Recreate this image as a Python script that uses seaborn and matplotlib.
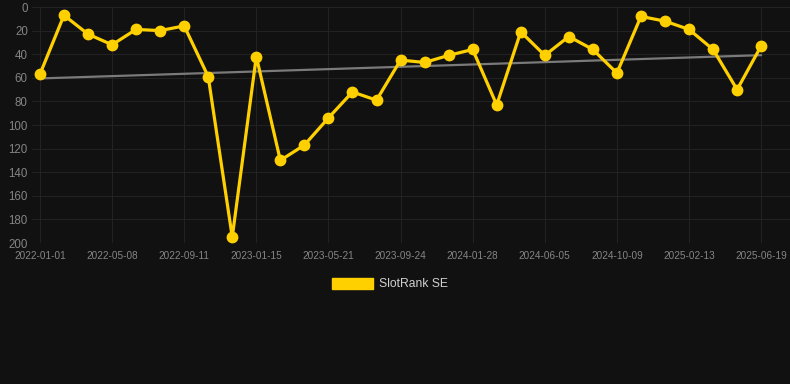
import numpy as np
import pandas as pd
import matplotlib
matplotlib.use("Agg")
import matplotlib.pyplot as plt
import seaborn as sns
from matplotlib.patches import Patch

# ---- data ----
positions = list(range(31))
rank_values = [57, 7, 23, 32, 19, 20, 16, 59, 195, 42, 130, 117, 94, 72, 79,
               45, 47, 41, 36, 83, 21, 41, 25, 36, 56, 8, 12, 19, 36, 70, 33]
tick_positions = [0, 3, 6, 9, 12, 15, 18, 21, 24, 27, 30]
tick_labels = ["2022-01-01", "2022-05-08", "2022-09-11", "2023-01-15", "2023-05-21",
               "2023-09-24", "2024-01-28", "2024-06-05", "2024-10-09", "2025-02-13",
               "2025-06-19"]
y_ticks = [0, 20, 40, 60, 80, 100, 120, 140, 160, 180, 200]
series_name = "SlotRank SE"

BG = "#111111"
GRID = "#222222"
TICK = "#858585"
YELLOW = "#FFD000"

sns.set_style("dark")
plt.rcParams["font.family"] = ["Liberation Sans", "DejaVu Sans"]

fig = plt.figure(figsize=(7.9, 3.84), dpi=100, facecolor=BG)
ax = fig.add_axes([32 / 790, 1 - 243 / 384, 1 - 32 / 790, (243 - 7) / 384])
ax.set_facecolor(BG)

df = pd.DataFrame({"x": positions, "rank": rank_values})

# trend line
coef = np.polyfit(df["x"], df["rank"], 1)
trend = np.polyval(coef, df["x"])
sns.lineplot(x=df["x"], y=trend, ax=ax, color="#7a7a7a", linewidth=1.6, zorder=2)

sns.lineplot(data=df, x="x", y="rank", ax=ax, color=YELLOW, linewidth=2.3,
             marker="o", markersize=8.5, markeredgewidth=0, zorder=3, clip_on=False)

ax.set_xlim(-0.33, 31.2)
ax.set_ylim(200, 0)
ax.set_xticks(tick_positions)
ax.set_xticklabels(tick_labels)
ax.set_yticks(y_ticks)
ax.grid(True, color=GRID, linewidth=0.75)
ax.set_axisbelow(True)
for s in ax.spines.values():
    s.set_visible(False)
ax.tick_params(axis="x", colors=TICK, labelsize=7.2, length=4, color=GRID, pad=2)
ax.tick_params(axis="y", colors=TICK, labelsize=8.3, length=0, pad=3)
for lbl in ax.get_xticklabels():
    lbl.set_color(TICK)
for lbl in ax.get_yticklabels():
    lbl.set_color(TICK)
ax.set_xlabel("")
ax.set_ylabel("")
if ax.get_legend():
    ax.get_legend().remove()

handle = Patch(facecolor=YELLOW, edgecolor=YELLOW)
leg = fig.legend([handle], [series_name], loc="center", bbox_to_anchor=(390 / 790, 1 - 284 / 384),
                 frameon=False, fontsize=8.7, handlelength=3.4, handleheight=1.0,
                 handletextpad=0.5, labelcolor="#d0d0d0")

fig.savefig("out.png", dpi=100, facecolor=BG)
